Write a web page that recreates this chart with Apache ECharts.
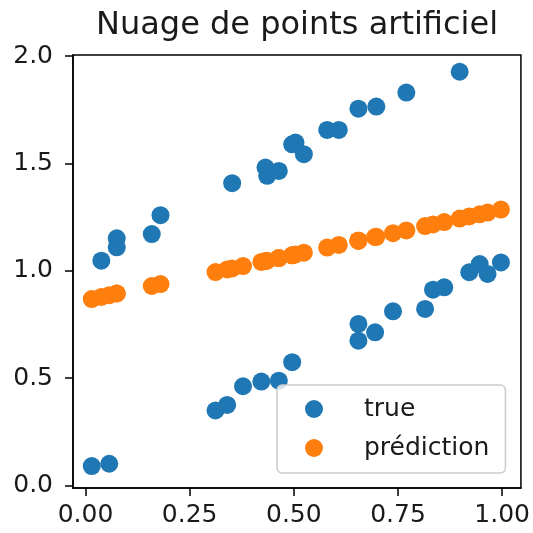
<!DOCTYPE html>
<html>
<head>
<meta charset="utf-8">
<script src="https://cdn.jsdelivr.net/npm/echarts@6/dist/echarts.min.js"></script>
<style>html,body{margin:0;padding:0;background:#fff}#c{width:533px;height:533px}</style>
</head>
<body>
<div id="c"></div>
<script>
const titleText = 'Nuage de points artificiel';
const seriesNames = ['true', 'prédiction'];
const xTicks = [0, 0.25, 0.5, 0.75, 1.0];
const yTicks = [0, 0.5, 1.0, 1.5, 2.0];

const xValues = [0.015, 0.038, 0.057, 0.075, 0.075, 0.159, 0.180, 0.312, 0.340, 0.352,
  0.378, 0.422, 0.432, 0.436, 0.464, 0.464, 0.496, 0.504, 0.496, 0.524,
  0.580, 0.608, 0.655, 0.655, 0.655, 0.695, 0.698, 0.738, 0.770, 0.815,
  0.834, 0.861, 0.898, 0.921, 0.946, 0.965, 0.997];
const trueValues = [0.090, 1.047, 0.101, 1.151, 1.109, 1.171, 1.259, 0.349, 0.375, 1.408,
  0.462, 0.484, 1.481, 1.442, 1.465, 0.488, 1.589, 1.597, 0.574, 1.543,
  1.656, 1.656, 1.755, 0.752, 0.674, 0.713, 1.765, 0.811, 1.830, 0.822,
  0.912, 0.923, 1.927, 0.993, 1.031, 0.985, 1.039];
const predValues = [0.868, 0.878, 0.886, 0.894, 0.894, 0.929, 0.938, 0.994, 1.006, 1.011,
  1.022, 1.041, 1.045, 1.047, 1.059, 1.059, 1.072, 1.076, 1.072, 1.084,
  1.108, 1.120, 1.140, 1.140, 1.140, 1.157, 1.158, 1.175, 1.188, 1.208,
  1.216, 1.227, 1.243, 1.253, 1.263, 1.271, 1.285];

const font = 'DejaVu Sans';
const chart = echarts.init(document.getElementById('c'), null, {renderer: 'canvas'});
chart.setOption({
  animation: false,
  backgroundColor: '#ffffff',
  textStyle: {fontFamily: font},
  title: {
    text: titleText,
    left: 91, top: 5,
    textStyle: {fontFamily: font, fontSize: 32, fontWeight: 'normal', color: '#1a1a1a'}
  },
  grid: {
    left: 73, right: 11, top: 55, bottom: 45,
    show: true, borderColor: '#000', borderWidth: 1.5, backgroundColor: 'transparent'
  },
  legend: {
    orient: 'vertical',
    left: 277, top: 385,
    padding: [9, 16, 10, 28],
    itemGap: 9,
    itemWidth: 18, itemHeight: 18,
    icon: 'circle',
    backgroundColor: 'rgba(255,255,255,0.8)',
    borderColor: '#cccccc', borderWidth: 1.5, borderRadius: 5,
    textStyle: {fontFamily: font, fontSize: 25, color: '#1a1a1a', lineHeight: 30, padding: [0, 0, 0, 36]},
    data: seriesNames
  },
  xAxis: {
    type: 'value', min: -0.03, max: 1.045,
    splitLine: {show: false},
    axisLine: {onZero: false, lineStyle: {color: '#000', width: 1.5}},
    axisTick: {length: 8, lineStyle: {color: '#000', width: 1.5}, customValues: xTicks},
    axisLabel: {customValues: xTicks, formatter: v => v.toFixed(2), fontFamily: font, fontSize: 25, color: '#1a1a1a', margin: 15}
  },
  yAxis: {
    type: 'value', min: -0.012, max: 2.005,
    splitLine: {show: false},
    axisLine: {onZero: false, lineStyle: {color: '#000', width: 1.5}},
    axisTick: {length: 8, lineStyle: {color: '#000', width: 1.5}, customValues: yTicks},
    axisLabel: {customValues: yTicks, formatter: v => v.toFixed(1), fontFamily: font, fontSize: 25, color: '#1a1a1a', margin: 20}
  },
  series: [
    {
      name: seriesNames[0], type: 'scatter', symbolSize: 18,
      itemStyle: {color: '#1f77b4', opacity: 1},
      data: xValues.map((x, i) => [x, trueValues[i]])
    },
    {
      name: seriesNames[1], type: 'scatter', symbolSize: 18,
      itemStyle: {color: '#ff7f0e', opacity: 1},
      data: xValues.map((x, i) => [x, predValues[i]])
    }
  ]
});
</script>
</body>
</html>
